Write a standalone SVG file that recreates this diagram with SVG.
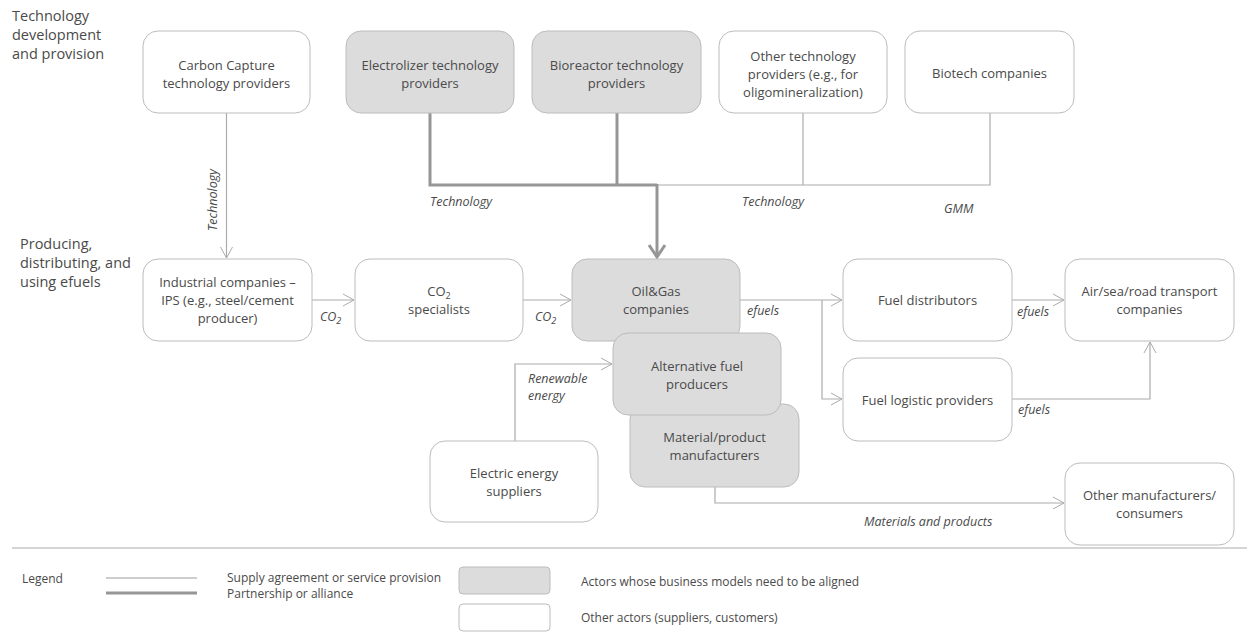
<svg xmlns="http://www.w3.org/2000/svg" width="1257" height="633" viewBox="0 0 1257 633">
<style>
text{font-family:"Open Sans","Liberation Sans",sans-serif;fill:#4a4a4a;}
.t{font-size:13px;text-anchor:middle;}
.h{font-size:14.5px;}
.l{font-size:12.5px;font-style:italic;}
.lg{font-size:12px;}
.w{fill:#fff;stroke:#bcbcbc;stroke-width:1;}
.g{fill:#dcdcdd;stroke:#bcbcbc;stroke-width:1;}
.thin{fill:none;stroke:#ababab;stroke-width:1.2;}
.thick{fill:none;stroke:#969696;stroke-width:3;}
</style>
<defs>
<marker id="a" markerUnits="userSpaceOnUse" markerWidth="14" markerHeight="14" refX="12" refY="7" orient="auto">
<path d="M1,1 L12,7 L1,13" fill="none" stroke="#ababab" stroke-width="1"/>
</marker>
<marker id="b" markerUnits="userSpaceOnUse" markerWidth="20" markerHeight="20" refX="15" refY="10" orient="auto">
<path d="M3,2 L15,10 L3,18" fill="none" stroke="#969696" stroke-width="3"/>
</marker>
</defs>

<g id="section-labels">
<text class="h" x="12" y="21">Technology</text>
<text class="h" x="12" y="40">development</text>
<text class="h" x="12" y="59">and provision</text>
<text class="h" x="20" y="249">Producing,</text>
<text class="h" x="20" y="268">distributing, and</text>
<text class="h" x="20" y="287">using efuels</text>
</g>

<g id="connectors">
<path class="thin" d="M226.5,113 V258" marker-end="url(#a)"/>
<path class="thick" d="M430,113 V185 H657"/>
<path class="thick" d="M617,113 V185"/>
<path class="thick" d="M657,184 V257" marker-end="url(#b)"/>
<path class="thin" d="M658,185 H990 V113"/>
<path class="thin" d="M803,113 V185"/>
<path class="thin" d="M312,300 H354" marker-end="url(#a)"/>
<path class="thin" d="M523,300 H571" marker-end="url(#a)"/>
<path class="thin" d="M740,300 H842" marker-end="url(#a)"/>
<path class="thin" d="M822,300 V399 H842" marker-end="url(#a)"/>
<path class="thin" d="M1012,300 H1064" marker-end="url(#a)"/>
<path class="thin" d="M1012,399 H1150 V342" marker-end="url(#a)"/>
<path class="thin" d="M515,441 V364 H612" marker-end="url(#a)"/>
<path class="thin" d="M715,487 V503 H1064" marker-end="url(#a)"/>
<text class="l" transform="translate(217,200) rotate(-90)" text-anchor="middle">Technology</text>
<text class="l" x="430" y="206">Technology</text>
<text class="l" x="742" y="206">Technology</text>
<text class="l" x="944" y="213">GMM</text>
<text class="l" x="320" y="321">CO<tspan font-size="9" dy="3">2</tspan></text>
<text class="l" x="535" y="321">CO<tspan font-size="9" dy="3">2</tspan></text>
<text class="l" x="747" y="315">efuels</text>
<text class="l" x="1017" y="316">efuels</text>
<text class="l" x="1018" y="414">efuels</text>
<text class="l" x="528" y="383">Renewable</text>
<text class="l" x="528" y="400">energy</text>
<text class="l" x="864" y="526">Materials and products</text>
</g>

<g id="carbon-capture"><rect class="w" x="143" y="31" width="167" height="82" rx="15"/><text class="t" x="226.5" y="70">Carbon Capture</text><text class="t" x="226.5" y="88">technology providers</text></g>
<g id="electrolizer"><rect class="g" x="346" y="31" width="168" height="82" rx="15"/><text class="t" x="430" y="70">Electrolizer technology</text><text class="t" x="430" y="88">providers</text></g>
<g id="bioreactor"><rect class="g" x="532" y="31" width="169" height="82" rx="15"/><text class="t" x="616.5" y="70">Bioreactor technology</text><text class="t" x="616.5" y="88">providers</text></g>
<g id="other-tech"><rect class="w" x="719" y="31" width="168" height="82" rx="15"/><text class="t" x="803" y="61">Other technology</text><text class="t" x="803" y="79">providers (e.g., for</text><text class="t" x="803" y="97">oligomineralization)</text></g>
<g id="biotech"><rect class="w" x="905" y="31" width="169" height="82" rx="15"/><text class="t" x="989.5" y="78">Biotech companies</text></g>

<g id="industrial"><rect class="w" x="143" y="259" width="169" height="82" rx="15"/><text class="t" x="227.5" y="287">Industrial companies –</text><text class="t" x="227.5" y="305">IPS (e.g., steel/cement</text><text class="t" x="227.5" y="323">producer)</text></g>
<g id="co2-specialists"><rect class="w" x="355" y="259" width="168" height="82" rx="15"/><text class="t" x="439" y="296">CO<tspan font-size="9" dy="3">2</tspan></text><text class="t" x="439" y="314">specialists</text></g>
<g id="oil-gas"><rect class="g" x="572" y="259" width="168" height="82" rx="15"/><text class="t" x="656" y="296">Oil&amp;Gas</text><text class="t" x="656" y="314">companies</text></g>
<g id="material"><rect class="g" x="630" y="404" width="169" height="83" rx="15"/><text class="t" x="714.5" y="442">Material/product</text><text class="t" x="714.5" y="460">manufacturers</text></g>
<g id="alt-fuel"><rect class="g" x="613" y="333" width="168" height="82" rx="15"/><text class="t" x="697" y="371">Alternative fuel</text><text class="t" x="697" y="389">producers</text></g>
<g id="fuel-distributors"><rect class="w" x="843" y="259" width="169" height="82" rx="15"/><text class="t" x="927.5" y="305">Fuel distributors</text></g>
<g id="transport"><rect class="w" x="1065" y="259" width="169" height="82" rx="15"/><text class="t" x="1149.5" y="296">Air/sea/road transport</text><text class="t" x="1149.5" y="314">companies</text></g>
<g id="fuel-logistic"><rect class="w" x="843" y="358" width="169" height="83" rx="15"/><text class="t" x="927.5" y="405">Fuel logistic providers</text></g>
<g id="electric"><rect class="w" x="430" y="441" width="168" height="81" rx="15"/><text class="t" x="514" y="478">Electric energy</text><text class="t" x="514" y="496">suppliers</text></g>
<g id="other-manufacturers"><rect class="w" x="1065" y="463" width="169" height="82" rx="15"/><text class="t" x="1149.5" y="500">Other manufacturers/</text><text class="t" x="1149.5" y="518">consumers</text></g>

<g id="legend">
<line x1="12" y1="548" x2="1247" y2="548" stroke="#ababab" stroke-width="1.2"/>
<text class="lg" x="22" y="583">Legend</text>
<line x1="106" y1="578" x2="197" y2="578" stroke="#bdbdbd" stroke-width="1.5"/>
<line x1="106" y1="593" x2="197" y2="593" stroke="#969696" stroke-width="3"/>
<text class="lg" x="227" y="582">Supply agreement or service provision</text>
<text class="lg" x="227" y="598">Partnership or alliance</text>
<rect class="g" x="459" y="567" width="91" height="27" rx="4"/>
<rect class="w" x="459" y="604" width="91" height="27" rx="4"/>
<text class="lg" x="581" y="586">Actors whose business models need to be aligned</text>
<text class="lg" x="581" y="622">Other actors (suppliers, customers)</text>
</g>
</svg>
